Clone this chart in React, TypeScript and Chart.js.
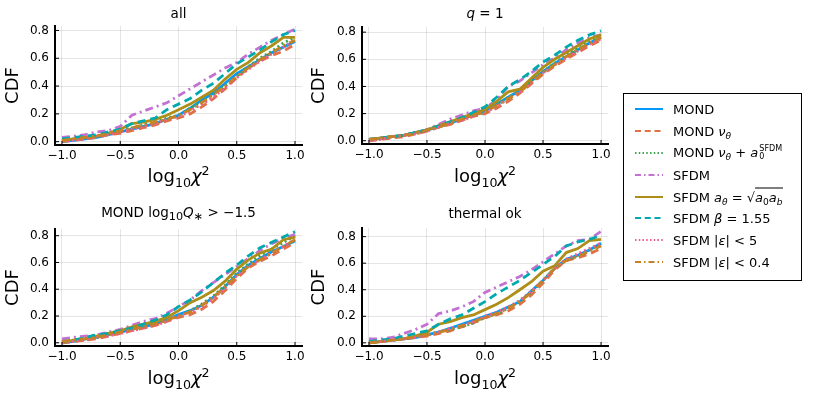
import React, { useEffect, useRef } from 'react';
import { Chart, registerables } from 'chart.js';

Chart.register(...registerables);
Chart.defaults.font.family = "'DejaVu Sans', sans-serif";
Chart.defaults.color = '#000';

// x positions (log10 chi^2) where the CDFs are sampled
const logChi2 = [-1.0, -0.9, -0.8, -0.7, -0.6, -0.5, -0.4, -0.3, -0.2, -0.1, 0.0, 0.1, 0.2, 0.3, 0.4, 0.5, 0.6, 0.7, 0.8, 0.9, 1.0];

// panel "all"
const allMond = [0.00, 0.01, 0.02, 0.03, 0.05, 0.07, 0.09, 0.11, 0.13, 0.16, 0.19, 0.24, 0.30, 0.35, 0.42, 0.49, 0.54, 0.59, 0.64, 0.68, 0.72];
const allMondNu = [0.00, 0.01, 0.02, 0.03, 0.05, 0.06, 0.08, 0.10, 0.12, 0.15, 0.17, 0.20, 0.25, 0.31, 0.38, 0.46, 0.53, 0.58, 0.62, 0.65, 0.70];
const allMondNuA0 = [0.01, 0.02, 0.03, 0.04, 0.06, 0.08, 0.10, 0.12, 0.14, 0.17, 0.19, 0.24, 0.29, 0.34, 0.40, 0.47, 0.54, 0.60, 0.65, 0.71, 0.75];
const allSfdm = [0.03, 0.04, 0.05, 0.07, 0.08, 0.11, 0.19, 0.22, 0.25, 0.28, 0.33, 0.38, 0.43, 0.48, 0.53, 0.57, 0.63, 0.68, 0.73, 0.77, 0.81];
const allSfdmA = [0.01, 0.02, 0.03, 0.04, 0.06, 0.09, 0.13, 0.14, 0.16, 0.19, 0.23, 0.27, 0.32, 0.37, 0.45, 0.52, 0.57, 0.64, 0.69, 0.75, 0.75];
const allSfdmBeta = [0.02, 0.03, 0.04, 0.05, 0.07, 0.09, 0.13, 0.15, 0.17, 0.23, 0.27, 0.31, 0.37, 0.42, 0.49, 0.56, 0.61, 0.66, 0.72, 0.77, 0.80];
const allSfdmEps5 = [0.00, 0.01, 0.02, 0.04, 0.05, 0.07, 0.09, 0.11, 0.13, 0.16, 0.18, 0.22, 0.27, 0.32, 0.39, 0.46, 0.52, 0.58, 0.63, 0.68, 0.73];
const allSfdmEps04 = [0.01, 0.02, 0.03, 0.04, 0.06, 0.08, 0.10, 0.12, 0.14, 0.16, 0.19, 0.23, 0.28, 0.34, 0.40, 0.47, 0.53, 0.59, 0.64, 0.69, 0.73];

// panel "q = 1"
const q1Mond = [0.00, 0.02, 0.03, 0.04, 0.06, 0.08, 0.10, 0.13, 0.16, 0.19, 0.22, 0.27, 0.32, 0.37, 0.44, 0.51, 0.57, 0.62, 0.67, 0.72, 0.76];
const q1MondNu = [0.00, 0.01, 0.02, 0.03, 0.05, 0.07, 0.10, 0.12, 0.15, 0.18, 0.20, 0.24, 0.29, 0.35, 0.42, 0.49, 0.55, 0.60, 0.65, 0.70, 0.74];
const q1MondNuA0 = [0.01, 0.02, 0.03, 0.04, 0.06, 0.08, 0.11, 0.13, 0.16, 0.18, 0.21, 0.26, 0.32, 0.37, 0.44, 0.51, 0.57, 0.63, 0.68, 0.73, 0.77];
const q1Sfdm = [0.01, 0.02, 0.03, 0.04, 0.06, 0.08, 0.12, 0.16, 0.19, 0.22, 0.24, 0.30, 0.40, 0.44, 0.50, 0.56, 0.61, 0.67, 0.72, 0.76, 0.78];
const q1SfdmA = [0.01, 0.02, 0.03, 0.04, 0.06, 0.08, 0.11, 0.14, 0.17, 0.20, 0.23, 0.29, 0.36, 0.38, 0.46, 0.54, 0.60, 0.65, 0.70, 0.75, 0.78];
const q1SfdmBeta = [0.01, 0.02, 0.03, 0.04, 0.06, 0.08, 0.11, 0.14, 0.17, 0.21, 0.25, 0.32, 0.40, 0.45, 0.51, 0.58, 0.63, 0.69, 0.74, 0.78, 0.81];
const q1SfdmEps5 = [0.00, 0.01, 0.03, 0.04, 0.05, 0.07, 0.10, 0.13, 0.15, 0.18, 0.21, 0.25, 0.31, 0.36, 0.43, 0.50, 0.56, 0.61, 0.66, 0.71, 0.75];
const q1SfdmEps04 = [0.01, 0.02, 0.03, 0.04, 0.05, 0.08, 0.10, 0.13, 0.16, 0.19, 0.21, 0.26, 0.31, 0.36, 0.43, 0.50, 0.56, 0.62, 0.67, 0.72, 0.76];

// panel "MOND log10 Q* > -1.5"
const qsMond = [0.00, 0.01, 0.03, 0.04, 0.06, 0.08, 0.10, 0.12, 0.14, 0.17, 0.21, 0.24, 0.28, 0.34, 0.42, 0.51, 0.58, 0.63, 0.68, 0.72, 0.76];
const qsMondNu = [0.00, 0.01, 0.02, 0.03, 0.05, 0.07, 0.09, 0.11, 0.13, 0.16, 0.19, 0.21, 0.25, 0.31, 0.39, 0.48, 0.56, 0.61, 0.65, 0.70, 0.75];
const qsMondNuA0 = [0.01, 0.02, 0.03, 0.04, 0.06, 0.08, 0.10, 0.12, 0.14, 0.17, 0.20, 0.24, 0.29, 0.35, 0.43, 0.52, 0.59, 0.65, 0.70, 0.75, 0.80];
const qsSfdm = [0.03, 0.04, 0.05, 0.06, 0.08, 0.10, 0.13, 0.16, 0.18, 0.22, 0.27, 0.32, 0.39, 0.45, 0.51, 0.57, 0.63, 0.69, 0.74, 0.78, 0.81];
const qsSfdmA = [0.00, 0.02, 0.03, 0.05, 0.07, 0.09, 0.12, 0.14, 0.16, 0.19, 0.24, 0.30, 0.34, 0.39, 0.46, 0.55, 0.62, 0.67, 0.70, 0.77, 0.79];
const qsSfdmBeta = [0.01, 0.02, 0.04, 0.06, 0.07, 0.09, 0.11, 0.14, 0.17, 0.21, 0.27, 0.32, 0.38, 0.45, 0.52, 0.58, 0.65, 0.71, 0.75, 0.79, 0.83];
const qsSfdmEps5 = [0.00, 0.01, 0.02, 0.04, 0.05, 0.07, 0.09, 0.11, 0.13, 0.16, 0.20, 0.23, 0.27, 0.33, 0.41, 0.50, 0.57, 0.62, 0.67, 0.72, 0.77];
const qsSfdmEps04 = [0.01, 0.02, 0.03, 0.04, 0.06, 0.08, 0.10, 0.12, 0.14, 0.17, 0.20, 0.23, 0.28, 0.34, 0.42, 0.50, 0.57, 0.62, 0.67, 0.72, 0.77];

// panel "thermal ok"
const thMond = [0.00, 0.01, 0.02, 0.03, 0.04, 0.06, 0.08, 0.11, 0.14, 0.17, 0.20, 0.23, 0.27, 0.31, 0.39, 0.47, 0.56, 0.63, 0.66, 0.70, 0.75];
const thMondNu = [0.00, 0.01, 0.02, 0.03, 0.04, 0.05, 0.07, 0.09, 0.12, 0.15, 0.19, 0.21, 0.24, 0.29, 0.36, 0.45, 0.55, 0.62, 0.64, 0.67, 0.71];
const thMondNuA0 = [0.00, 0.01, 0.02, 0.03, 0.04, 0.06, 0.08, 0.10, 0.12, 0.15, 0.19, 0.22, 0.26, 0.31, 0.38, 0.47, 0.56, 0.62, 0.66, 0.70, 0.74];
const thSfdm = [0.03, 0.03, 0.04, 0.07, 0.10, 0.14, 0.22, 0.24, 0.27, 0.31, 0.38, 0.42, 0.46, 0.50, 0.55, 0.61, 0.67, 0.73, 0.77, 0.78, 0.84];
const thSfdmA = [0.00, 0.01, 0.02, 0.03, 0.05, 0.08, 0.14, 0.16, 0.19, 0.21, 0.25, 0.29, 0.34, 0.40, 0.46, 0.54, 0.58, 0.68, 0.71, 0.77, 0.78];
const thSfdmBeta = [0.01, 0.02, 0.03, 0.05, 0.07, 0.09, 0.14, 0.18, 0.21, 0.26, 0.31, 0.37, 0.42, 0.47, 0.53, 0.59, 0.65, 0.73, 0.76, 0.78, 0.81];
const thSfdmEps5 = [0.00, 0.01, 0.02, 0.03, 0.04, 0.06, 0.08, 0.11, 0.13, 0.16, 0.20, 0.23, 0.27, 0.32, 0.39, 0.47, 0.56, 0.63, 0.67, 0.71, 0.75];
const thSfdmEps04 = [0.00, 0.01, 0.02, 0.03, 0.05, 0.06, 0.08, 0.10, 0.13, 0.16, 0.19, 0.22, 0.26, 0.31, 0.38, 0.47, 0.56, 0.62, 0.65, 0.69, 0.73];

const SOLID: number[] = [];
const DASH = [8, 5];
const DOT = [2, 3];
const DASHDOT = [8, 4, 2, 4];

const SERIES = [
    { name: 'MOND', color: '#009AFA', dash: SOLID },
    { name: 'MOND νθ', color: '#E36F47', dash: DASH },
    { name: 'MOND νθ + a0 SFDM', color: '#3EA44E', dash: DOT },
    { name: 'SFDM', color: '#C371D2', dash: DASHDOT },
    { name: 'SFDM aθ = √(a0 ab)', color: '#AC8E18', dash: SOLID },
    { name: 'SFDM β = 1.55', color: '#00A9AD', dash: DASH },
    { name: 'SFDM |ε| < 5', color: '#ED5E93', dash: DOT },
    { name: 'SFDM |ε| < 0.4', color: '#C68225', dash: DASHDOT },
];

const it = (s: string) => <i>{s}</i>;

const PANELS = [
    {
        key: 'all', title: <>all</>,
        left: 0, top: 0, w: 310, h: 200, yAxisW: 55, padRight: 8, padTop: 26, xAxisH: 55, yMax: 0.832,
        values: [allMond, allMondNu, allMondNuA0, allSfdm, allSfdmA, allSfdmBeta, allSfdmEps5, allSfdmEps04],
    },
    {
        key: 'q1', title: <>{it('q')} = 1</>,
        left: 306, top: 0, w: 310, h: 200, yAxisW: 56, padRight: 8, padTop: 27, xAxisH: 56, yMax: 0.838,
        values: [q1Mond, q1MondNu, q1MondNuA0, q1Sfdm, q1SfdmA, q1SfdmBeta, q1SfdmEps5, q1SfdmEps04],
    },
    {
        key: 'qs', title: <>MOND log<sub>10</sub>{it('Q')}<sub>∗</sub> &gt; −1.5</>,
        left: 0, top: 200, w: 310, h: 202, yAxisW: 55, padRight: 8, padTop: 29, xAxisH: 56, yMax: 0.85,
        values: [qsMond, qsMondNu, qsMondNuA0, qsSfdm, qsSfdmA, qsSfdmBeta, qsSfdmEps5, qsSfdmEps04],
    },
    {
        key: 'th', title: <>thermal ok</>,
        left: 306, top: 200, w: 310, h: 202, yAxisW: 56, padRight: 8, padTop: 28, xAxisH: 56, yMax: 0.865,
        values: [thMond, thMondNu, thMondNuA0, thSfdm, thSfdmA, thSfdmBeta, thSfdmEps5, thSfdmEps04],
    },
];

const fmt = (v: number | string) => Number(v).toFixed(1).replace('-', '−');

// small inward tick marks on the left and bottom axes
const innerTicks = {
    id: 'innerTicks',
    afterDraw(chart: any) {
        const { ctx, chartArea: a, scales } = chart;
        ctx.save();
        ctx.strokeStyle = '#000';
        ctx.lineWidth = 1;
        ctx.beginPath();
        scales.x.ticks.forEach((t: any) => {
            const px = scales.x.getPixelForValue(t.value);
            ctx.moveTo(px, a.bottom);
            ctx.lineTo(px, a.bottom - 4);
        });
        scales.y.ticks.forEach((t: any) => {
            const py = scales.y.getPixelForValue(t.value);
            ctx.moveTo(a.left, py);
            ctx.lineTo(a.left + 4, py);
        });
        ctx.stroke();
        ctx.restore();
    },
};

function Panel({ p }: { p: typeof PANELS[number] }) {
    const ref = useRef<HTMLCanvasElement>(null);

    useEffect(() => {
        if (!ref.current) return;
        const chart = new Chart(ref.current, {
            type: 'line',
            data: {
                datasets: SERIES.map((s, i) => ({
                    label: s.name,
                    data: logChi2.map((x, j) => ({ x, y: p.values[i][j] })),
                    borderColor: s.color,
                    backgroundColor: s.color,
                    borderWidth: 2.8,
                    borderDash: s.dash,
                    pointRadius: 0,
                    tension: 0,
                    fill: false,
                    order: SERIES.length - i,
                })),
            },
            options: {
                animation: false,
                responsive: false,
                layout: { padding: { top: p.padTop, right: p.padRight, left: 0, bottom: 0 } },
                plugins: { legend: { display: false }, tooltip: { enabled: false } },
                scales: {
                    x: {
                        type: 'linear',
                        min: -1.06,
                        max: 1.06,
                        ticks: { stepSize: 0.5, includeBounds: false, padding: 4, font: { size: 12 }, maxRotation: 0, callback: fmt },
                        grid: { color: 'rgba(0,0,0,0.1)', lineWidth: 1, drawTicks: false },
                        border: { display: true, color: '#000', width: 2 },
                        afterFit: (s: any) => { s.height = p.xAxisH; s.paddingLeft = 0; s.paddingRight = 0; },
                    },
                    y: {
                        type: 'linear',
                        min: -0.024,
                        max: p.yMax,
                        ticks: { stepSize: 0.2, includeBounds: false, padding: 6, font: { size: 12 }, callback: fmt },
                        grid: { color: 'rgba(0,0,0,0.1)', lineWidth: 1, drawTicks: false },
                        border: { display: true, color: '#000', width: 2 },
                        title: { display: true, text: 'CDF', font: { size: 18 }, padding: { top: 3, bottom: 0 } },
                        afterFit: (s: any) => { s.width = p.yAxisW; s.paddingTop = 0; s.paddingBottom = 0; },
                    },
                },
            },
            plugins: [innerTicks],
        });
        return () => { chart.destroy(); };
    }, [p]);

    const cx = p.left + p.yAxisW + (p.w - p.yAxisW - p.padRight) / 2;
    const center: React.CSSProperties = {
        position: 'absolute', left: cx, transform: 'translate(-50%, -50%)', whiteSpace: 'nowrap', lineHeight: 1,
    };

    return (
        <>
            <canvas ref={ref} width={p.w} height={p.h}
                style={{ position: 'absolute', left: p.left, top: p.top, width: p.w, height: p.h }} />
            <div style={{ ...center, top: p.top + 13.5, fontSize: 13.5 }}>{p.title}</div>
            <div style={{ ...center, top: p.top + p.h - 23, fontSize: 18 }}>
                log<sub style={{ fontSize: '0.7em' }}>10</sub><i>χ</i><sup style={{ fontSize: '0.7em' }}>2</sup>
            </div>
        </>
    );
}

const subSup = (sup: string, sub: string) => (
    <span style={{ display: 'inline-flex', flexDirection: 'column', fontSize: '0.62em', lineHeight: 1.05, verticalAlign: 'middle', marginLeft: 1 }}>
        <span>{sup}</span>
        <span>{sub}</span>
    </span>
);
const sub = (s: React.ReactNode) => <sub style={{ fontSize: '0.7em', lineHeight: 0 }}>{s}</sub>;

const LEGEND_LABELS = [
    <>MOND</>,
    <>MOND {it('ν')}{sub(it('θ'))}</>,
    <>MOND {it('ν')}{sub(it('θ'))} + {it('a')}{subSup('SFDM', '0')}</>,
    <>SFDM</>,
    <>SFDM {it('a')}{sub(it('θ'))} = √<span style={{ borderTop: '1px solid #000', paddingTop: 1 }}>{it('a')}{sub('0')}{it('a')}{sub(it('b'))}</span></>,
    <>SFDM {it('β')} = 1.55</>,
    <>SFDM |{it('ε')}| &lt; 5</>,
    <>SFDM |{it('ε')}| &lt; 0.4</>,
];

function Legend() {
    return (
        <div style={{ position: 'absolute', left: 623, top: 93, width: 177, height: 186, border: '1.2px solid #000', background: '#fff' }}>
            {SERIES.map((s, i) => (
                <div key={s.name} style={{ position: 'absolute', left: 0, top: 15.3 + i * 21.8, height: 0 }}>
                    <svg width={30} height={6} style={{ position: 'absolute', left: 11, top: -3 }}>
                        <line x1={0} y1={3} x2={28} y2={3} stroke={s.color} strokeWidth={2}
                            strokeDasharray={s.dash.length ? s.dash.map((d) => d * 0.75).join(' ') : undefined} />
                    </svg>
                    <div style={{ position: 'absolute', left: 49, top: 0, transform: 'translateY(-50%)', fontSize: 13, whiteSpace: 'nowrap', lineHeight: 1 }}>
                        {LEGEND_LABELS[i]}
                    </div>
                </div>
            ))}
        </div>
    );
}

export default function App() {
    return (
        <div style={{ position: 'absolute', left: 0, top: 0, width: 831, height: 402, background: '#fff', fontFamily: "'DejaVu Sans', sans-serif", color: '#000' }}>
            {PANELS.map((p) => <Panel key={p.key} p={p} />)}
            <Legend />
        </div>
    );
}
